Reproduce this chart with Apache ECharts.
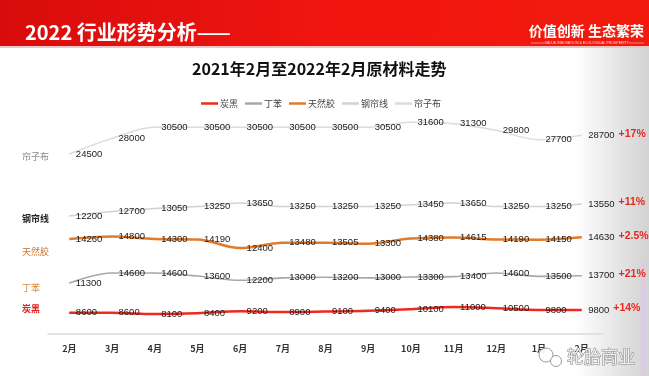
<!DOCTYPE html>
<html>
<head>
<meta charset="utf-8">
<script src="https://cdn.jsdelivr.net/npm/echarts@6/dist/echarts.min.js"></script>
<style>
html, body { margin: 0; padding: 0; background: #fff; }
#chart { width: 649px; height: 376px; }
</style>
</head>
<body>
<div id="chart"></div>
<script>
// 月份
const months = ["2月", "3月", "4月", "5月", "6月", "7月", "8月", "9月", "10月", "11月", "12月", "1月", "2月"];

// 原材料价格
const tanhei = [8600, 8600, 8100, 8400, 9200, 8900, 9100, 9400, 10100, 11000, 10500, 9800, 9800];
const dingben = [11300, 14600, 14600, 13600, 12200, 13000, 13200, 13000, 13300, 13400, 14600, 13500, 13700];
const tianranjiao = [14260, 14800, 14300, 14190, 12400, 13480, 13505, 13300, 14380, 14615, 14190, 14150, 14630];
const ganglianxian = [12200, 12700, 13050, 13250, 13650, 13250, 13250, 13250, 13450, 13650, 13250, 13250, 13550];
const lianzibu = [24500, 28000, 30500, 30500, 30500, 30500, 30500, 30500, 31600, 31300, 29800, 27700, 28700];

const names = ["炭黑", "丁苯", "天然胶", "钢帘线", "帘子布"];
const growth = ["+14%", "+21%", "+2.5%", "+11%", "+17%"];

// 每条线各占一个高度带：两个参考值对应的像素高度，用来算隐藏y轴的范围
const gridTop = 110, gridBottom = 334;
const bands = [
  [8100, 314, 11000, 307],
  [11300, 283, 14600, 273],
  [12400, 248, 14700, 237],
  [12200, 216, 13650, 203],
  [24500, 154, 31450, 123]
];
function bandAxis(b) {
  const s = (b[2] - b[0]) / (b[1] - b[3]);
  const min = b[0] - (gridBottom - b[1]) * s;
  return { type: "value", show: false, min: min, max: min + (gridBottom - gridTop) * s };
}

const colors = ["#ee2a1e", "#a8a8a8", "#e07b2c", "#d2d2d2", "#dcdcdc"];
const widths = [2.5, 1.6, 2.5, 1.5, 1.5];
const nameColors = ["#e02420", "#d98a3a", "#c87432", "#222", "#888"];
const nameY = [309, 288, 252, 219, 157];

const chart = echarts.init(document.getElementById("chart"));
const datasets = [tanhei, dingben, tianranjiao, ganglianxian, lianzibu];
const last = months.length - 1;

chart.setOption({
  animation: false,
  title: {
    text: "2021年2月至2022年2月原材料走势",
    left: 192,
    top: 61,
    padding: 0,
    textStyle: { fontSize: 16, fontWeight: "bold", color: "#111", fontFamily: "Noto Sans CJK SC" }
  },
  legend: {
    data: names.map(n => ({ name: n, icon: "rect" })),
    left: 196,
    top: 94,
    itemWidth: 17,
    itemHeight: 2.5,
    itemGap: 7,
    textStyle: { fontSize: 9, color: "#444", fontFamily: "Noto Sans CJK SC", padding: [0, 0, 0, -3] }
  },
  grid: { left: 48, right: 46, top: gridTop, bottom: 376 - gridBottom },
  xAxis: {
    type: "category",
    data: months,
    boundaryGap: true,
    axisLine: { lineStyle: { color: "#dcdcdc", width: 1.5 } },
    axisTick: { show: false },
    axisLabel: { fontSize: 9, fontWeight: "bold", color: "#333", margin: 10, fontFamily: "Noto Sans CJK SC" }
  },
  yAxis: bands.map(bandAxis),
  series: names.map((n, i) => ({
    name: n,
    type: "line",
    yAxisIndex: i,
    data: datasets[i],
    smooth: 0.35,
    symbol: "circle",
    symbolSize: 1,
    showSymbol: true,
    itemStyle: { color: colors[i] },
    lineStyle: { color: colors[i], width: widths[i] },
    label: {
      show: true,
      position: "right",
      distance: 6,
      formatter: p => p.dataIndex === last ? "{v|" + p.value + "}{p|" + growth[i] + "}" : "{v|" + p.value + "}",
      rich: {
        v: { fontSize: 9.5, color: "#1a1a1a", fontFamily: "Liberation Sans" },
        p: { fontSize: 10.5, color: "#e8281e", fontWeight: "bold", fontFamily: "Liberation Sans", padding: [0, 0, 3, 4] }
      }
    }
  })),
  graphic: [
    // 顶部红色横幅
    {
      type: "rect", z: 0,
      shape: { x: 0, y: 0, width: 649, height: 46 },
      style: {
        fill: new echarts.graphic.LinearGradient(0, 0, 1, 1, [
          { offset: 0, color: "#d80c0c" },
          { offset: 0.5, color: "#f01510" },
          { offset: 1, color: "#f21a0c" }
        ])
      }
    },
    { type: "rect", z: 0, shape: { x: 0, y: 46, width: 649, height: 2 }, style: { fill: "#f3c4c4" } },
    {
      type: "text", z: 1, x: 25, y: 32,
      style: { text: "2022 行业形势分析——", fill: "#fff", fontSize: 20, fontWeight: "bold", fontFamily: "Noto Sans CJK SC", verticalAlign: "middle" }
    },
    {
      type: "text", z: 1, x: 644, y: 31,
      style: { text: "价值创新 生态繁荣", fill: "#fff", fontSize: 14, fontWeight: "bold", fontFamily: "Noto Sans CJK SC", align: "right", verticalAlign: "middle" }
    },
    {
      type: "text", z: 1, x: 587, y: 43,
      style: { text: "VALUE INNOVATION & ECOLOGICAL PROSPERITY", fill: "rgba(255,255,255,0.85)", fontSize: 3.5, fontFamily: "Liberation Sans", align: "center", verticalAlign: "middle" }
    },
    { type: "line", z: 1, shape: { x1: 531, y1: 43, x2: 545, y2: 43 }, style: { stroke: "rgba(255,255,255,0.8)", lineWidth: 0.6 } },
    { type: "line", z: 1, shape: { x1: 629, y1: 43, x2: 644, y2: 43 }, style: { stroke: "rgba(255,255,255,0.8)", lineWidth: 0.6 } },
    // 右侧灰色渐变
    {
      type: "rect", z: -1,
      shape: { x: 575, y: 48, width: 74, height: 328 },
      style: {
        fill: new echarts.graphic.LinearGradient(0, 0, 1, 0, [
          { offset: 0, color: "rgba(205,205,205,0)" },
          { offset: 1, color: "rgba(205,205,205,0.9)" }
        ])
      }
    },
    { type: "rect", z: 0, shape: { x: 641, y: 262, width: 4, height: 114, r: 2 }, style: { fill: "#dccbe6" } },
    // 左侧名称
    ...names.map((n, i) => ({
      type: "text", z: 3, x: 22, y: nameY[i],
      style: { text: n, fill: nameColors[i], fontSize: 9, fontWeight: (i === 0 || i === 3) ? "bold" : "normal", fontFamily: "Noto Sans CJK SC", verticalAlign: "middle" }
    })),
    // 水印
    { type: "circle", z: 5, shape: { cx: 546, cy: 355, r: 7 }, style: { fill: "rgba(255,255,255,0.9)", stroke: "#9a9a9a", lineWidth: 1 } },
    { type: "circle", z: 5, shape: { cx: 556, cy: 361, r: 5.5 }, style: { fill: "rgba(255,255,255,0.9)", stroke: "#9a9a9a", lineWidth: 1 } },
    {
      type: "text", z: 5, x: 567, y: 357,
      style: { text: "轮胎商业", fill: "#eeeeee", stroke: "#8a8a8a", lineWidth: 1, fontSize: 17, fontFamily: "Noto Sans CJK SC", verticalAlign: "middle" }
    }
  ]
});
</script>
</body>
</html>
